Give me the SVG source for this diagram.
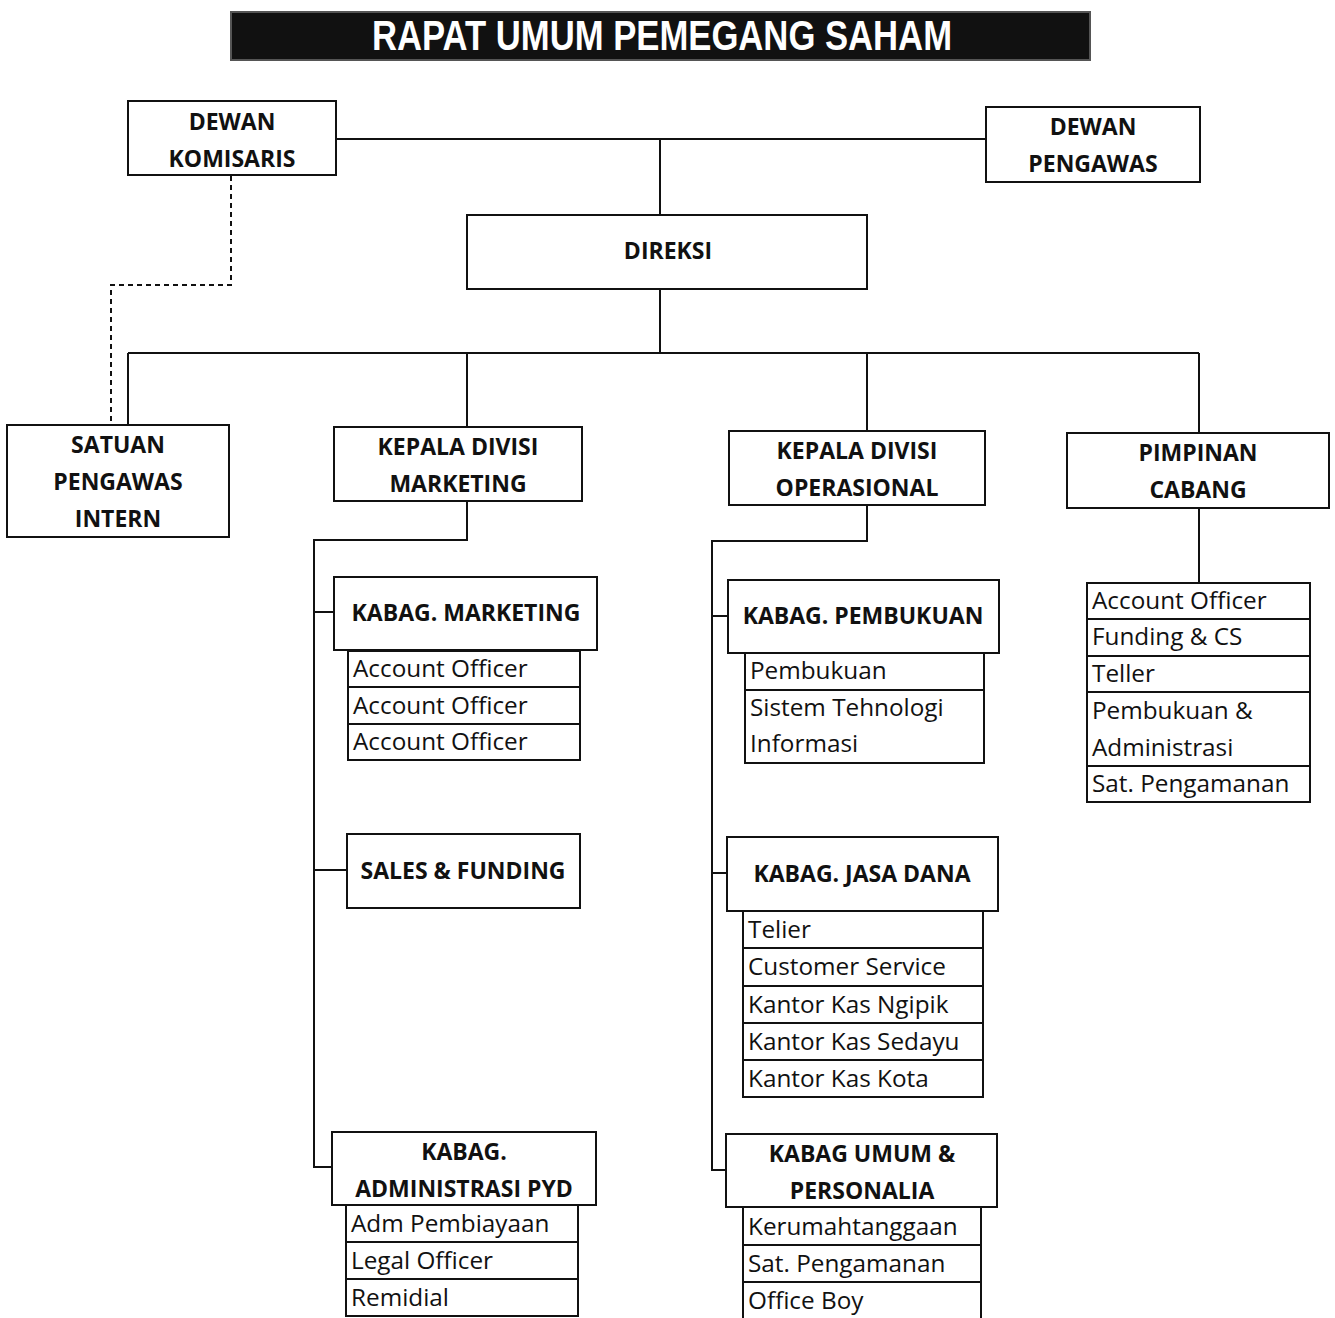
<svg xmlns="http://www.w3.org/2000/svg" width="1335" height="1318" viewBox="0 0 1335 1318">
<style>
.bx{fill:#fff;stroke:#111;stroke-width:2}
.ln{fill:none;stroke:#111;stroke-width:2}
.ds{fill:none;stroke:#111;stroke-width:2;stroke-dasharray:5 4}
.h{font-family:"Open Sans","Noto Sans",sans-serif;font-weight:bold;font-size:23px;fill:#111;text-anchor:middle}
.s{font-family:"Open Sans","Noto Sans",sans-serif;font-size:24.3px;fill:#111}
.t{font-family:"Liberation Sans Narrow","Liberation Sans",sans-serif;font-weight:bold;font-size:42px;fill:#fff;text-anchor:middle}
</style>
<rect width="1335" height="1318" fill="#fff"/>
<g id="title">
<rect x="231" y="12" width="859" height="48" fill="#111" stroke="#555" stroke-width="2"/>
<text class="t" x="662" y="50" textLength="580" lengthAdjust="spacingAndGlyphs">RAPAT UMUM PEMEGANG SAHAM</text>
</g>
<g id="connectors">
<path class="ln" d="M336 139 H986 M660 139 V215 M660 289 V353 M128 353 H1199 M128 353 V425 M467 353 V427 M867 353 V431 M1199 353 V433"/>
<path class="ds" d="M231 176 V285 H111 V425"/>
<path class="ln" d="M467 501 V540 H314 V1167 H332 M314 612 H334 M314 870 H347"/>
<path class="ln" d="M867 505 V541 H712 V1170 H726 M712 616 H728 M712 873 H727"/>
<path class="ln" d="M1199 508 V583"/>
</g>
<g id="dewan-komisaris">
<rect class="bx" x="128" y="101" width="208" height="74"/>
<text class="h" x="232" y="130">DEWAN</text>
<text class="h" x="232" y="167">KOMISARIS</text>
</g>
<g id="dewan-pengawas">
<rect class="bx" x="986" y="107" width="214" height="75"/>
<text class="h" x="1093" y="135">DEWAN</text>
<text class="h" x="1093" y="172">PENGAWAS</text>
</g>
<g id="direksi">
<rect class="bx" x="467" y="215" width="400" height="74"/>
<text class="h" x="668" y="259">DIREKSI</text>
</g>
<g id="spi">
<rect class="bx" x="7" y="425" width="222" height="112"/>
<text class="h" x="118" y="453">SATUAN</text>
<text class="h" x="118" y="490">PENGAWAS</text>
<text class="h" x="118" y="527">INTERN</text>
</g>
<g id="kadiv-marketing">
<rect class="bx" x="334" y="427" width="248" height="74"/>
<text class="h" x="458" y="455">KEPALA DIVISI</text>
<text class="h" x="458" y="492">MARKETING</text>
</g>
<g id="kadiv-operasional">
<rect class="bx" x="729" y="431" width="256" height="74"/>
<text class="h" x="857" y="459">KEPALA DIVISI</text>
<text class="h" x="857" y="496">OPERASIONAL</text>
</g>
<g id="pimpinan-cabang">
<rect class="bx" x="1067" y="433" width="262" height="75"/>
<text class="h" x="1198" y="461">PIMPINAN</text>
<text class="h" x="1198" y="498">CABANG</text>
</g>
<g id="kabag-marketing">
<rect class="bx" x="348" y="651" width="232" height="109"/>
<path class="ln" d="M348 687 H580 M348 724 H580"/>
<text class="s" x="353" y="677">Account Officer</text>
<text class="s" x="353" y="714">Account Officer</text>
<text class="s" x="353" y="750">Account Officer</text>
<rect class="bx" x="334" y="577" width="263" height="73"/>
<text class="h" x="466" y="621">KABAG. MARKETING</text>
</g>
<g id="sales-funding">
<rect class="bx" x="347" y="834" width="233" height="74"/>
<text class="h" x="463" y="879">SALES &amp; FUNDING</text>
</g>
<g id="kabag-adm-pyd">
<rect class="bx" x="346" y="1205" width="232" height="111"/>
<path class="ln" d="M346 1242 H578 M346 1279 H578"/>
<text class="s" x="351" y="1232">Adm Pembiayaan</text>
<text class="s" x="351" y="1269">Legal Officer</text>
<text class="s" x="351" y="1306">Remidial</text>
<rect class="bx" x="332" y="1132" width="264" height="73"/>
<text class="h" x="464" y="1160">KABAG.</text>
<text class="h" x="464" y="1197">ADMINISTRASI PYD</text>
</g>
<g id="kabag-pembukuan">
<rect class="bx" x="745" y="653" width="239" height="110"/>
<path class="ln" d="M745 690 H984"/>
<text class="s" x="750" y="679">Pembukuan</text>
<text class="s" x="750" y="716">Sistem Tehnologi</text>
<text class="s" x="750" y="752">Informasi</text>
<rect class="bx" x="728" y="580" width="271" height="73"/>
<text class="h" x="863" y="624">KABAG. PEMBUKUAN</text>
</g>
<g id="kabag-jasa-dana">
<rect class="bx" x="743" y="911" width="240" height="186"/>
<path class="ln" d="M743 948 H983 M743 986 H983 M743 1023 H983 M743 1060 H983"/>
<text class="s" x="748" y="938">Telier</text>
<text class="s" x="748" y="975">Customer Service</text>
<text class="s" x="748" y="1013">Kantor Kas Ngipik</text>
<text class="s" x="748" y="1050">Kantor Kas Sedayu</text>
<text class="s" x="748" y="1087">Kantor Kas Kota</text>
<rect class="bx" x="727" y="837" width="271" height="74"/>
<text class="h" x="862" y="882">KABAG. JASA DANA</text>
</g>
<g id="kabag-umum-personalia">
<rect class="bx" x="743" y="1207" width="238" height="113"/>
<path class="ln" d="M743 1245 H981 M743 1282 H981"/>
<text class="s" x="748" y="1235">Kerumahtanggaan</text>
<text class="s" x="748" y="1272">Sat. Pengamanan</text>
<text class="s" x="748" y="1309">Office Boy</text>
<rect class="bx" x="726" y="1134" width="271" height="73"/>
<text class="h" x="862" y="1162">KABAG UMUM &amp;</text>
<text class="h" x="862" y="1199">PERSONALIA</text>
</g>
<g id="cabang-staff">
<rect class="bx" x="1087" y="583" width="223" height="219"/>
<path class="ln" d="M1087 619 H1310 M1087 656 H1310 M1087 692 H1310 M1087 766 H1310"/>
<text class="s" x="1092" y="609">Account Officer</text>
<text class="s" x="1092" y="645">Funding &amp; CS</text>
<text class="s" x="1092" y="682">Teller</text>
<text class="s" x="1092" y="719">Pembukuan &amp;</text>
<text class="s" x="1092" y="756">Administrasi</text>
<text class="s" x="1092" y="792">Sat. Pengamanan</text>
</g>
</svg>
